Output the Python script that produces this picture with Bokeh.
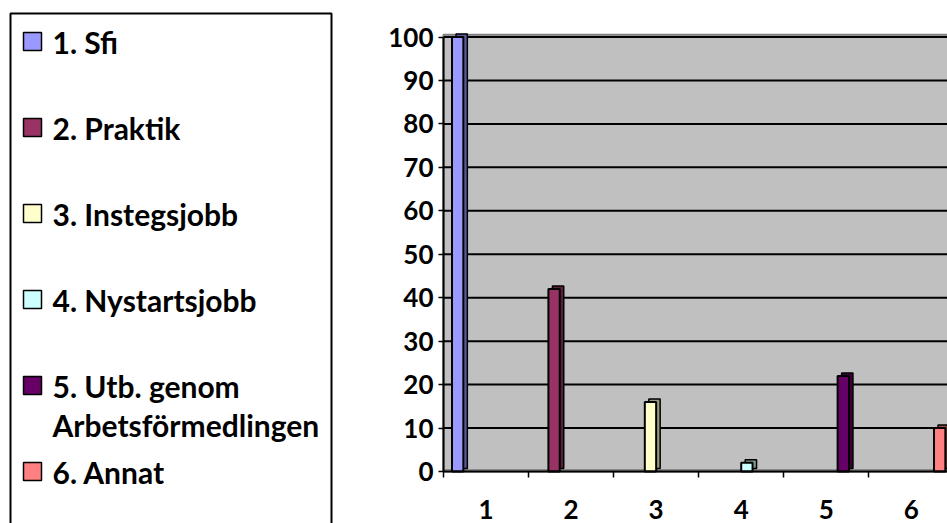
from bokeh.plotting import figure
from bokeh.models import Range1d, FixedTicker, ColumnDataSource
from bokeh.core.properties import value
from bokeh.embed import file_html
from bokeh.resources import INLINE

# ---------------- data ----------------
categories = [1, 2, 3, 4, 5, 6]
series_names = ["1. Sfi", "2. Praktik", "3. Instegsjobb", "4. Nystartsjobb",
                "5. Utb. genom\nArbetsförmedlingen", "6. Annat"]
series_values = [100, 42, 16, 2, 22, 10]
series_colors = ["#9999FF", "#993366", "#FFFFCC", "#CCFFFF", "#660066", "#FF8080"]
y_ticks = [0, 10, 20, 30, 40, 50, 60, 70, 80, 90, 100]
x_tick_labels = ["1", "2", "3", "4", "5", "6"]

# ---------------- style / layout ----------------
FONT = "Lato"
AXIS_FONT_SIZE = "26px"
LEG_FONT_SIZE = "30px"
W, H = 947, 523
GAP = 1.5                 # Excel gap width (150 %)
PX_PER_CAT = 85.06
PX_PER_UNIT = 4.345
AXIS_X_PX = 443           # pixel column of the value axis inside the canvas
AXIS_Y_PX = 471           # pixel row of the category axis inside the canvas
DEPTH_PX_X, DEPTH_PX_Y = 4, 3
Y_TOP = 100.5


def darker(hex_color, f=0.6):
    h = hex_color.lstrip("#")
    r, g, b = (int(h[i:i + 2], 16) for i in (0, 2, 4))
    return "#%02x%02x%02x" % (int(r * f), int(g * f), int(b * f))


n_series = len(series_names)
slot = 1.0 / (n_series + GAP)
bar_x = [categories[i] - 0.5 + GAP * slot / 2 + (i + 0.5) * slot for i in range(n_series)]
dx = DEPTH_PX_X / PX_PER_CAT
dy = DEPTH_PX_Y / PX_PER_UNIT

x0 = categories[0] - 0.5
x_start = x0 - AXIS_X_PX / PX_PER_CAT
x_end = x0 + (W - AXIS_X_PX) / PX_PER_CAT
y_start = -(H - AXIS_Y_PX) / PX_PER_UNIT
y_end = AXIS_Y_PX / PX_PER_UNIT
x_last = categories[-1] + 0.5

p = figure(width=W, height=H,
           x_range=Range1d(x_start, x_end), y_range=Range1d(y_start, y_end),
           output_backend="svg", toolbar_location=None, min_border=0)
p.extra_x_ranges = {"px": Range1d(0, W)}
p.extra_y_ranges = {"px": Range1d(H, 0)}
p.background_fill_color = "white"
p.border_fill_color = "white"
p.outline_line_color = None
p.grid.visible = False

# plot area (back wall)
p.quad(left=[x0], right=[x_last], bottom=[0], top=[Y_TOP],
       fill_color="#C0C0C0", line_color="#808080", line_width=2)
# floor band
p.quad(left=[x0], right=[x_last], bottom=[0], top=[0.6],
       fill_color="#8a8a8a", line_color=None)
# gridlines
p.segment(x0=[x0] * (len(y_ticks) - 1), x1=[x_last] * (len(y_ticks) - 1),
          y0=y_ticks[1:], y1=y_ticks[1:], line_color="black", line_width=2)

# bars (3D look: shaded block behind the front face)
back = ColumnDataSource(dict(
    x=[x + dx for x in bar_x], top=[v + dy for v in series_values],
    bottom=[dy] * n_series, color=[darker(c) for c in series_colors]))
front = ColumnDataSource(dict(
    x=bar_x, top=series_values, bottom=[0] * n_series, color=series_colors))
p.vbar(x="x", top="top", bottom="bottom", width=slot, source=back,
       fill_color="color", line_color="black", line_width=1.5)
p.vbar(x="x", top="top", bottom="bottom", width=slot, source=front,
       fill_color="color", line_color="black", line_width=2)

# value axis
ya = p.yaxis[0]
ya.fixed_location = x0
ya.bounds = (y_ticks[0], y_ticks[-1])
ya.ticker = FixedTicker(ticks=y_ticks)
ya.axis_line_color = "black"
ya.axis_line_width = 2
ya.major_tick_out = 5
ya.major_tick_in = 0
ya.major_tick_line_width = 1.5
ya.minor_tick_line_color = None
ya.major_label_standoff = 5
ya.major_label_text_font = FONT
ya.major_label_text_font_style = "bold"
ya.major_label_text_font_size = AXIS_FONT_SIZE
ya.major_label_text_color = "black"

# category axis
xa = p.xaxis[0]
xa.fixed_location = 0
xa.bounds = (x0, x_last)
xa.ticker = FixedTicker(ticks=categories,
                        minor_ticks=[c - 0.5 for c in categories] + [x_last])
xa.major_label_overrides = {c: lab for c, lab in zip(categories, x_tick_labels)}
xa.axis_line_color = "black"
xa.axis_line_width = 2
xa.major_tick_line_color = None
xa.major_tick_out = 6
xa.major_tick_in = 0
xa.minor_tick_out = 6
xa.minor_tick_in = 0
xa.minor_tick_line_color = "black"
xa.minor_tick_line_width = 1.5
xa.major_label_standoff = 22
xa.major_label_text_font = FONT
xa.major_label_text_font_style = "bold"
xa.major_label_text_font_size = AXIS_FONT_SIZE
xa.major_label_text_color = "black"

# ---------------- legend (pixel coordinates) ----------------
BOX_L, BOX_R, BOX_T = 10, 331, 13
ITEM_TOP, ITEM_STEP, LINE_STEP = 41, 86, 39
SW_X, SW_SIZE = 32, 18
TXT_X = 52

p.quad(left=[BOX_L], right=[BOX_R], top=[BOX_T], bottom=[H + 50],
       fill_color=None, line_color="black", line_width=2,
       x_range_name="px", y_range_name="px")

sw_y = [ITEM_TOP + ITEM_STEP * i for i in range(n_series)]
p.rect(x=[SW_X] * n_series, y=sw_y, width=SW_SIZE, height=SW_SIZE,
       fill_color=series_colors, line_color="black", line_width=1.5,
       x_range_name="px", y_range_name="px")

tx, ty, tt = [], [], []
for i, name in enumerate(series_names):
    for j, line in enumerate(name.split("\n")):
        tx.append(TXT_X)
        ty.append(sw_y[i] + j * LINE_STEP)
        tt.append(line)
p.text(x=tx, y=ty, text=tt, text_font=value(FONT), text_font_style="bold",
       text_font_size=LEG_FONT_SIZE, text_baseline="middle", text_align="left",
       text_color="black", x_range_name="px", y_range_name="px")

open("out.html", "w").write(file_html(p, INLINE))
